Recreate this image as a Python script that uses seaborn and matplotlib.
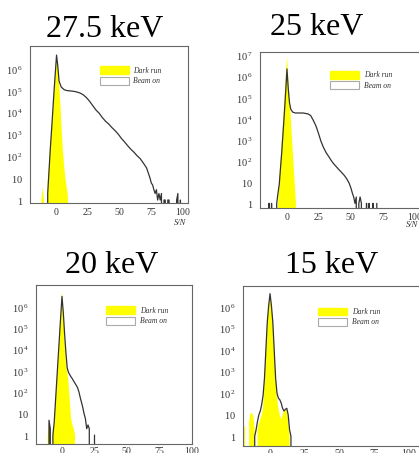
import numpy as np
import matplotlib
matplotlib.use("Agg")
import matplotlib.pyplot as plt
from matplotlib.patches import Patch
from matplotlib.ticker import FixedLocator, FixedFormatter, MultipleLocator, LogLocator, NullFormatter
import seaborn as sns

# ---------------- data (S/N bins and counts) ----------------
titles = ["27.5 keV", "25 keV", "20 keV", "15 keV"]
legend_labels = ["Dark run", "Beam on"]
xtick_values = [0, 25, 50, 75, 100]
xtick_labels = ["0", "25", "50", "75", "100"]

# 27.5 keV
dark1_edges = [e - 0.5 for e in range(-13, 12)]
dark1_counts = [0, 1, 4, 1, 0, 0, 6, 40, 300, 2000, 1.5e4, 1e5, 7e5, 4e6, 1.5e6, 2.5e5,
                3e4, 2e3, 200, 40, 10, 4, 1.5, 0]
beam1_edges = ([e - 0.5 for e in range(-8, 3)] + [2.5 + 2.5 * k for k in range(29)]
               + [e + 0.5 for e in range(73, 101)])
beam1_counts = ([0, 2, 20, 200, 1500, 1.2e4, 1e5, 7e5, 4.8e6, 1.5e6, 3e5]
                + [1.6e5, 1.2e5, 1.1e5, 1.07e5, 1.02e5, 9.5e4, 8.5e4, 7e4, 5.2e4, 3.5e4,
                   2.2e4, 1.4e4, 1e4, 6.3e3, 4.3e3, 3.2e3, 2.2e3, 1.6e3, 1.1e3, 700,
                   480, 320, 220, 160, 110, 80, 50, 30]
                + [15, 10, 6, 5, 3, 2, 3, 1, 2, 1, 2, 0, 1, 1, 0, 1, 1, 0, 0, 0,
                   0, 0, 1, 2, 0, 1, 0, 0])

# 25 keV
dark2_edges = [e - 0.5 for e in range(-8, 10)]
dark2_counts = [0, 1, 10, 100, 1e3, 1e4, 1e5, 1e6, 1e7, 1e6, 1e5, 1e4, 1e3, 100, 10, 1, 0]
beam2_edges = ([e - 0.5 for e in range(-15, 4)] + [3.5 + 2 * k for k in range(24)]
               + [e + 0.5 for e in range(50, 71)])
beam2_counts = ([0, 1, 0, 1, 0, 0, 0, 1, 3, 8, 50, 300, 2500, 2e4, 2e5, 2.5e6, 3e5, 6e4, 3e4]
                + [2.2e4, 2e4, 2e4, 2e4, 2e4, 1.9e4, 1.8e4, 1.5e4, 9e3, 5e3, 2.2e3, 900,
                   450, 260, 170, 110, 75, 55, 40, 30, 22, 15, 9]
                + [5, 3, 2, 1, 2, 0, 1, 2, 1, 0, 0, 0, 1, 0, 1, 0, 0, 1, 0, 0, 1])

# 20 keV
dark3_edges = [e - 0.5 for e in range(-12, 13)]
dark3_counts = [0, 1, 4, 1, 0, 1, 4, 40, 400, 4000, 4e4, 4e5, 6e6, 5e5, 3e4, 2.5e3, 1e3,
                300, 40, 6, 3, 2, 1, 0]
beam3_edges = [e - 0.5 for e in range(-11, 27)]
beam3_counts = [0, 5, 2, 0, 1, 4, 40, 400, 4000, 4e4, 4e5, 3.5e6, 6e5, 6e4, 8e3, 1.5e3,
                900, 700, 550, 450, 350, 280, 220, 170, 110, 60, 35, 20, 10, 6, 2, 3, 2,
                0, 0, 0, 1]

# 15 keV
dark4_edges = [e - 0.5 for e in range(-20, 17)]
dark4_counts = [0, 3, 3, 0, 0, 5, 12, 12, 9, 2, 0, 2, 4, 6, 10, 20, 400, 1e4, 2e5, 1.2e6,
                4.4e6, 1.2e6, 2e5, 1e4, 500, 60, 20, 10, 6, 10, 16, 18, 16, 5, 1, 0]
beam4_edges = [e - 0.5 for e in range(-12, 18)]
beam4_counts = [0, 1, 2, 5, 10, 15, 30, 80, 500, 1e4, 2e5, 1.2e6, 4.4e6, 1.2e6, 2e5, 1e4,
                500, 100, 60, 50, 35, 20, 15, 18, 20, 10, 2, 1, 0]

panels = [
    (dark1_edges, dark1_counts, beam1_edges, beam1_counts),
    (dark2_edges, dark2_counts, beam2_edges, beam2_counts),
    (dark3_edges, dark3_counts, beam3_edges, beam3_counts),
    (dark4_edges, dark4_counts, beam4_edges, beam4_counts),
]

# ---------------- layout ----------------
W, H = 419, 453
sns.set_style("white")
plt.rcParams["mathtext.fontset"] = "custom"
plt.rcParams["mathtext.rm"] = "Liberation Serif"
plt.rcParams["mathtext.it"] = "Liberation Serif:italic"
plt.rcParams["font.family"] = ["Liberation Serif", "DejaVu Serif"]

fig = plt.figure(figsize=(W / 100, H / 100), dpi=100)
fig.patch.set_facecolor("white")

boxes = [(30, 46, 188, 203), (260, 52, 423, 208), (36, 285, 192, 444), (243, 286, 422, 445.5)]
xlims = [(-21, 104), (-21, 106), (-20, 100), (-19.4, 109)]
ylims = [(0.73, 1.26e7), (0.6, 1.6e7), (0.38, 1.2e7), (0.37, 1.0e7)]
ymax_dec = [6, 7, 6, 6]
title_pos = [(105, 37), (317, 35), (112, 273), (332, 273)]
legend_anchor = [(0.44, 0.87), (0.43, 0.88), (0.45, 0.865), (0.42, 0.865)]
xpad = [2, 2, 1, 1]
sn_pos = [(180, 223), (412, 225)]

axis_col = "#666666"
text_col = "#333333"

for i, (de, dc, be, bc) in enumerate(panels):
    l, t, r, b = boxes[i]
    ax = fig.add_axes([l / W, 1 - b / H, (r - l) / W, (b - t) / H])
    ax.set_yscale("log")
    dcen = [(de[k] + de[k + 1]) / 2 for k in range(len(dc))]
    bcen = [(be[k] + be[k + 1]) / 2 for k in range(len(bc))]
    sns.histplot(x=dcen, weights=dc, bins=de, element="poly", fill=True,
                 color="#ffff00", alpha=1.0, linewidth=0, ax=ax)
    sns.histplot(x=bcen, weights=bc, bins=be, element="poly", fill=False,
                 color="#333333", linewidth=0.9, ax=ax)
    ax.set_xlim(*xlims[i])
    ax.set_ylim(*ylims[i])
    ax.set_xlabel("")
    ax.set_ylabel("")

    # y ticks
    decs = list(range(0, ymax_dec[i] + 1))
    ylabels = []
    for d in decs:
        if d == 0:
            ylabels.append(r"$\mathit{1}$")
        elif d == 1:
            ylabels.append(r"$\mathit{10}$")
        else:
            ylabels.append(r"$\mathit{10}^{\,\mathit{%d}}$" % d)
    ax.yaxis.set_major_locator(FixedLocator([10.0 ** d for d in decs]))
    ax.yaxis.set_major_formatter(FixedFormatter(ylabels))
    ax.yaxis.set_minor_locator(LogLocator(base=10, subs=np.arange(2, 10), numticks=20))
    ax.yaxis.set_minor_formatter(NullFormatter())

    # x ticks
    ax.xaxis.set_major_locator(FixedLocator(xtick_values))
    ax.xaxis.set_major_formatter(FixedFormatter([r"$\mathit{%s}$" % s for s in xtick_labels]))
    ax.xaxis.set_minor_locator(MultipleLocator(5))

    ax.tick_params(axis="both", which="major", direction="in", length=4, width=0.6,
                   color=axis_col, labelsize=7, labelcolor=text_col)
    ax.tick_params(axis="x", which="major", pad=xpad[i])
    ax.tick_params(axis="y", which="major", pad=5, labelsize=7.5)
    ax.tick_params(axis="both", which="minor", direction="in", length=2, width=0.5,
                   color=axis_col)
    ax.tick_params(top=False, right=False, which="both")
    for s in ax.spines.values():
        s.set_color(axis_col)
        s.set_linewidth(0.8)

    handles = [Patch(facecolor="#ffff00", edgecolor="#ffff00"),
               Patch(facecolor="white", edgecolor="#aaaaaa", linewidth=0.8)]
    ax.legend(handles, legend_labels, loc="upper left", bbox_to_anchor=legend_anchor[i],
              frameon=False, borderaxespad=0, borderpad=0, handlelength=3.8,
              handleheight=1.2, labelspacing=0.25, handletextpad=0.6,
              prop={"family": "Liberation Serif", "style": "italic", "size": 5.5},
              labelcolor=text_col)

    tx, ty = title_pos[i]
    fig.text(tx / W, 1 - ty / H, titles[i], ha="center", va="baseline",
             fontsize=23, family="Liberation Serif", color="black")

for (sx, sy) in sn_pos:
    fig.text(sx / W, 1 - sy / H, "S/N", ha="center", va="center", fontsize=6,
             family="Liberation Serif", style="italic", color=text_col)

fig.savefig("out.png", dpi=100, facecolor="white")
